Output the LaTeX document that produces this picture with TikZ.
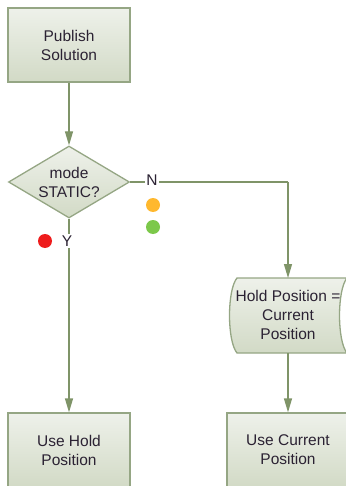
\documentclass[tikz,border=0pt]{standalone}
\usepackage{fontspec}
\setmainfont{Liberation Sans}
\usetikzlibrary{shapes.geometric,arrows.meta,calc}
\definecolor{edgecol}{HTML}{7F9468}
\definecolor{bordercol}{HTML}{95A684}
\definecolor{filltop}{HTML}{EEF1EA}
\definecolor{fillbot}{HTML}{D2DAC6}
\definecolor{txtcol}{HTML}{2B2233}
\definecolor{dotred}{HTML}{EE1C1C}
\definecolor{dotorange}{HTML}{FFB82E}
\definecolor{dotgreen}{HTML}{7CC84A}
\tikzset{
  x=1pt,y=-1pt,
  every node/.style={font=\fontsize{15.5}{19}\selectfont, text=txtcol, align=center, inner sep=0pt},
  procbox/.style={draw=bordercol, line width=1.3pt, top color=filltop, bottom color=fillbot, minimum width=122pt, minimum height=74pt},
  decbox/.style={diamond, draw=bordercol, line width=1.3pt, top color=filltop, bottom color=fillbot, minimum width=121pt, minimum height=72pt, aspect=1.68},
  flow/.style={draw=edgecol, line width=1.3pt, -{Triangle[width=8pt,length=14pt]}},
  plain/.style={draw=edgecol, line width=1.3pt},
  dot/.style={circle, minimum size=14pt, inner sep=0pt}
}
\begin{document}
\begin{tikzpicture}
\useasboundingbox (0,0) rectangle (345,486);
\node[procbox] (pub) at (69,45) {Publish\\Solution};
\node[decbox] (dec) at (69,182) {mode\\STATIC?};
\node[procbox] (usehold) at (69,450) {Use Hold\\Position};
\node[procbox] (usecur) at (288,450) {Use Current\\Position};
% Hold Position stored-data shape
\path[draw=bordercol, line width=1.3pt, top color=filltop, bottom color=fillbot]
  (237,278) -- (347,278) .. controls (337,290) and (337,341) .. (347,353)
  -- (237,353) .. controls (227,341) and (227,290) .. (237,278) -- cycle;
\node (hold) at (288,315) {Hold Position =\\Current\\Position};
\coordinate (holdtop) at (288,278);
\coordinate (holdbot) at (288,353);
\coordinate (corner) at (288,182);
% connectors
\draw[flow] (pub.south) -- (dec.north);
\draw[flow] (dec.south) -- (usehold.north);
\draw[plain] (dec.east) -- (corner);
\draw[flow] (corner) -- (holdtop);
\draw[flow] (holdbot) -- (usecur.north);
% labels
\node[fill=white, inner xsep=1pt, inner ysep=1pt] (nlab) at (152,180) {N};
\node[fill=white, inner xsep=1pt, inner ysep=2pt] (ylab) at (67,241) {Y};
\node[dot, fill=dotorange] (d1) at (153,205) {};
\node[dot, fill=dotgreen] (d2) at (153,227) {};
\node[dot, fill=dotred] (d3) at (45,241) {};
\end{tikzpicture}
\end{document}
